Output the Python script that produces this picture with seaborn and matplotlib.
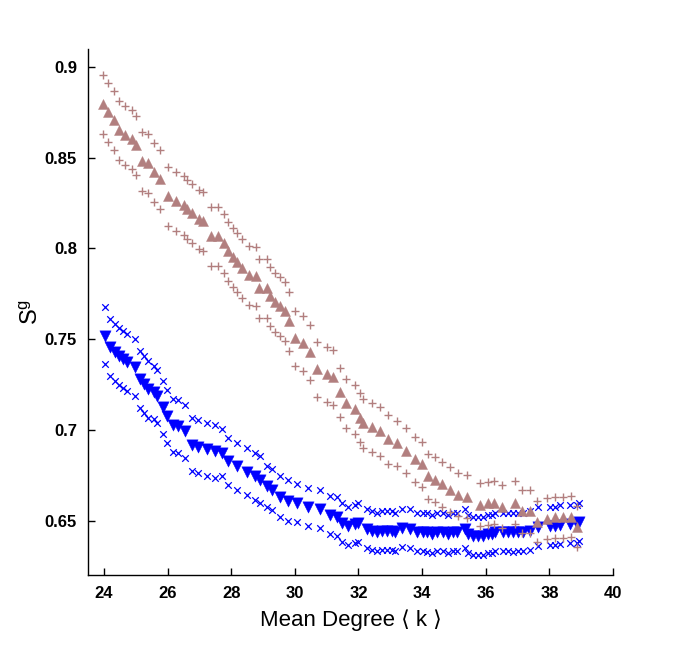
import numpy as np
import seaborn as sns
import matplotlib
matplotlib.use("Agg")
import matplotlib.pyplot as plt

# mean degree / S^g readings, blue series (down triangles, x bounds)
blue_k = [24.03, 24.19, 24.35, 24.47, 24.60, 24.72, 24.97, 25.13, 25.26, 25.38,
          25.57, 25.67, 25.86, 25.98, 26.17, 26.33, 26.55, 26.77, 26.96, 27.24,
          27.49, 27.71, 27.90, 28.18, 28.50, 28.75, 28.91, 29.13, 29.28, 29.53,
          29.79, 30.07, 30.42, 30.79, 31.11, 31.33, 31.48, 31.67, 31.89, 31.99,
          32.27, 32.43, 32.58, 32.74, 32.90, 33.06, 33.15, 33.37, 33.62, 33.84,
          34.03, 34.16, 34.31, 34.47, 34.66, 34.82, 34.97, 35.10, 35.35, 35.45,
          35.60, 35.76, 35.92, 36.08, 36.20, 36.30, 36.55, 36.70, 36.86, 37.02,
          37.18, 37.40, 37.65, 38.03, 38.18, 38.34, 38.65, 38.87, 38.94]
blue_sg = [0.7520, 0.7455, 0.7427, 0.7405, 0.7389, 0.7372, 0.7344, 0.7278, 0.7251, 0.7223,
           0.7206, 0.7184, 0.7124, 0.7074, 0.7024, 0.7019, 0.6991, 0.6919, 0.6908, 0.6892,
           0.6881, 0.6875, 0.6826, 0.6798, 0.6770, 0.6743, 0.6726, 0.6688, 0.6671, 0.6632,
           0.6610, 0.6599, 0.6577, 0.6566, 0.6528, 0.6522, 0.6489, 0.6472, 0.6483, 0.6489,
           0.6456, 0.6445, 0.6439, 0.6445, 0.6445, 0.6445, 0.6439, 0.6461, 0.6456, 0.6439,
           0.6439, 0.6434, 0.6428, 0.6439, 0.6439, 0.6428, 0.6439, 0.6439, 0.6456, 0.6428,
           0.6417, 0.6417, 0.6417, 0.6428, 0.6428, 0.6439, 0.6439, 0.6439, 0.6434, 0.6439,
           0.6439, 0.6445, 0.6467, 0.6472, 0.6472, 0.6478, 0.6483, 0.6483, 0.6494]
blue_hw = [0.0158, 0.0158, 0.0158, 0.0158, 0.0158, 0.0158, 0.0158, 0.0158, 0.0158, 0.0158,
           0.0145, 0.0145, 0.0145, 0.0145, 0.0145, 0.0145, 0.0145, 0.0145, 0.0145, 0.0145,
           0.0145, 0.0130, 0.0130, 0.0130, 0.0130, 0.0130, 0.0130, 0.0115, 0.0115, 0.0115,
           0.0115, 0.0105, 0.0105, 0.0105, 0.0105, 0.0105, 0.0105, 0.0105, 0.0105, 0.0105,
           0.0105, 0.0105, 0.0105, 0.0105, 0.0105, 0.0105, 0.0105, 0.0105, 0.0105, 0.0105,
           0.0105, 0.0105, 0.0105, 0.0105, 0.0105, 0.0105, 0.0105, 0.0105, 0.0105, 0.0105,
           0.0105, 0.0105, 0.0105, 0.0105, 0.0105, 0.0105, 0.0105, 0.0105, 0.0105, 0.0105,
           0.0105, 0.0105, 0.0105, 0.0105, 0.0105, 0.0105, 0.0105, 0.0105, 0.0105]

# brown series (up triangles, + bounds)
brown_k = [23.97, 24.13, 24.31, 24.47, 24.66, 24.88, 25.01, 25.19, 25.38, 25.57,
           25.76, 26.01, 26.26, 26.52, 26.61, 26.77, 26.99, 27.11, 27.36, 27.58,
           27.77, 27.90, 28.06, 28.18, 28.34, 28.56, 28.78, 28.87, 29.13, 29.22,
           29.38, 29.53, 29.69, 29.82, 30.01, 30.26, 30.48, 30.70, 31.01, 31.20,
           31.42, 31.61, 31.89, 32.05, 32.14, 32.43, 32.68, 32.93, 33.21, 33.50,
           33.78, 34.00, 34.19, 34.41, 34.63, 34.88, 35.13, 35.42, 35.82, 36.08,
           36.26, 36.52, 36.92, 37.14, 37.40, 37.62, 37.93, 38.18, 38.43, 38.69,
           38.87]
brown_sg = [0.8796, 0.8752, 0.8708, 0.8652, 0.8625, 0.8603, 0.8570, 0.8481, 0.8470, 0.8421,
            0.8382, 0.8288, 0.8260, 0.8238, 0.8216, 0.8194, 0.8161, 0.8150, 0.8067, 0.8067,
            0.8029, 0.7985, 0.7951, 0.7924, 0.7891, 0.7852, 0.7847, 0.7780, 0.7780, 0.7736,
            0.7703, 0.7681, 0.7653, 0.7598, 0.7504, 0.7477, 0.7427, 0.7333, 0.7306, 0.7289,
            0.7206, 0.7146, 0.7113, 0.7068, 0.7035, 0.7013, 0.6991, 0.6947, 0.6925, 0.6886,
            0.6837, 0.6809, 0.6743, 0.6726, 0.6699, 0.6671, 0.6643, 0.6632, 0.6588, 0.6594,
            0.6599, 0.6577, 0.6599, 0.6550, 0.6550, 0.6494, 0.6511, 0.6517, 0.6517, 0.6522,
            0.6467]
brown_hw = [0.0163, 0.0163, 0.0163, 0.0163, 0.0163, 0.0163, 0.0163, 0.0163, 0.0163, 0.0163,
            0.0163, 0.0163, 0.0163, 0.0163, 0.0163, 0.0163, 0.0163, 0.0163, 0.0163, 0.0163,
            0.0163, 0.0163, 0.0163, 0.0163, 0.0163, 0.0163, 0.0163, 0.0163, 0.0163, 0.0163,
            0.0163, 0.0163, 0.0163, 0.0163, 0.0150, 0.0150, 0.0150, 0.0150, 0.0150, 0.0150,
            0.0135, 0.0135, 0.0135, 0.0135, 0.0135, 0.0135, 0.0135, 0.0135, 0.0125, 0.0125,
            0.0125, 0.0125, 0.0125, 0.0125, 0.0125, 0.0125, 0.0120, 0.0120, 0.0120, 0.0120,
            0.0120, 0.0120, 0.0120, 0.0120, 0.0120, 0.0115, 0.0115, 0.0115, 0.0115, 0.0115,
            0.0115]

x_ticks = [24, 26, 28, 30, 32, 34, 36, 38, 40]
y_ticks = [0.65, 0.7, 0.75, 0.8, 0.85, 0.9]
y_tick_labels = ["0.65", "0.7", "0.75", "0.8", "0.85", "0.9"]

BLUE = "#0000FF"
BROWN = "#B27F7F"

sns.set_style("white")
plt.rcParams["font.family"] = ["Liberation Sans", "DejaVu Sans"]
plt.rcParams["text.color"] = "black"
plt.rcParams["axes.labelcolor"] = "black"

fig = plt.figure(figsize=(6.77, 6.46), dpi=100)
ax = fig.add_axes([0.130, 0.110, 0.7755, 0.8142])

bk, bs, bh = np.array(blue_k), np.array(blue_sg), np.array(blue_hw)
rk, rs, rh = np.array(brown_k), np.array(brown_sg), np.array(brown_hw)

# blue: bounds then mean
for yy in (bs + bh, bs - bh):
    sns.scatterplot(x=bk, y=yy, marker="x", s=22, color=BLUE, linewidth=0.9,
                    ax=ax, legend=False, zorder=2)
sns.scatterplot(x=bk, y=bs, marker="v", s=66, color=BLUE, edgecolor=BLUE,
                linewidth=0.3, ax=ax, legend=False, zorder=3)

# brown: bounds then mean
for yy in (rs + rh, rs - rh):
    sns.scatterplot(x=rk, y=yy, marker="+", s=36, color=BROWN, linewidth=1.0,
                    ax=ax, legend=False, zorder=4)
sns.scatterplot(x=rk, y=rs, marker="^", s=52, color=BROWN, edgecolor=BROWN,
                linewidth=0.3, ax=ax, legend=False, zorder=5)

ax.set_xlim(23.5, 40)
ax.set_ylim(0.62, 0.91)
ax.set_xticks(x_ticks)
ax.set_yticks(y_ticks)
ax.set_yticklabels(y_tick_labels)
for s in ("top", "right"):
    ax.spines[s].set_visible(False)
for s in ("left", "bottom"):
    ax.spines[s].set_color("black")
    ax.spines[s].set_linewidth(1.0)
ax.tick_params(bottom=True, left=True, top=False, right=False,
               direction="in", length=5, width=1, colors="black",
               labelcolor="black", pad=8, labelsize=12)
for lab in ax.get_xticklabels() + ax.get_yticklabels():
    lab.set_fontweight("bold")

ax.set_xlabel("Mean Degree \u27e8 k \u27e9", fontsize=16, labelpad=6, color="black")
ax.set_ylabel(r"$\mathregular{S^g}$", fontsize=17, labelpad=1, color="black")

fig.savefig("out.png", dpi=100)
